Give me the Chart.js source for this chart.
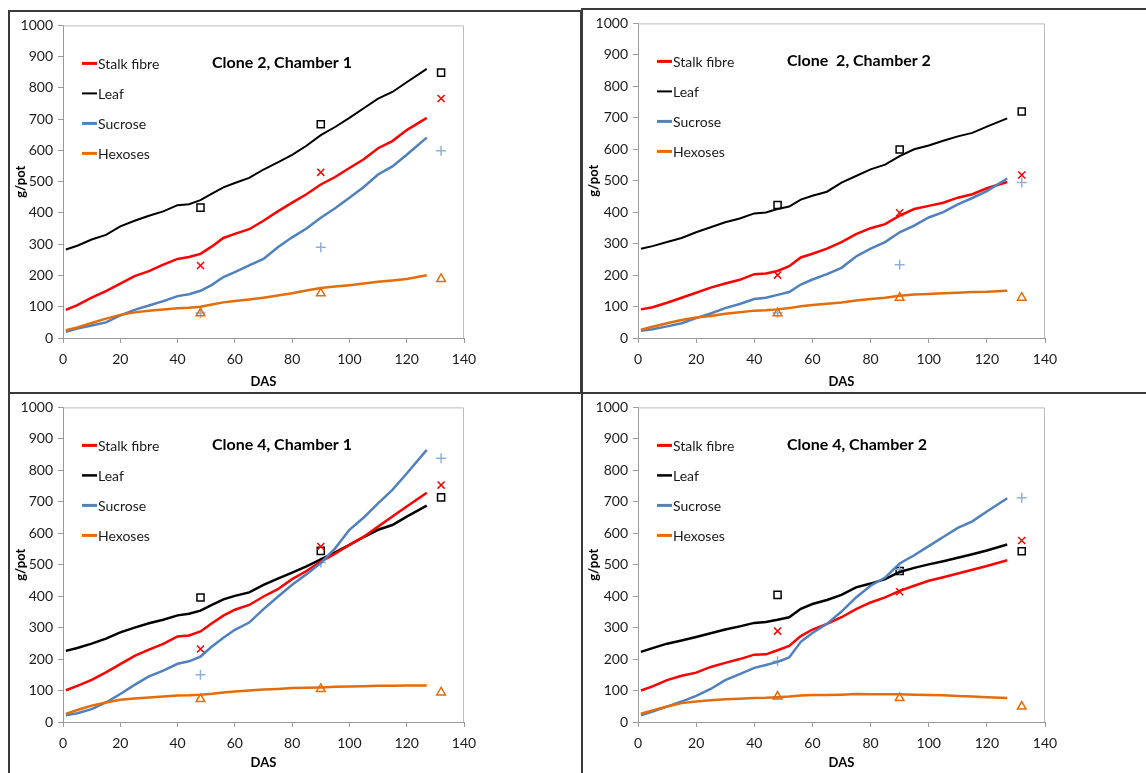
<!DOCTYPE html>
<html>
<head>
<meta charset="utf-8">
<script src="https://cdn.jsdelivr.net/npm/chart.js@4.4.1/dist/chart.umd.min.js"></script>
<style>
  body { margin: 0; background: #fff; width: 1146px; height: 773px; overflow: hidden; position: relative; }
  .panel { position: absolute; box-sizing: border-box; border: 2px solid #3a3a3a; }
  canvas { position: absolute; }
</style>
</head>
<body>
<div class="panel" style="left:8px;top:10px;width:574px;height:384px"></div>
<div class="panel" style="left:581px;top:8px;width:580px;height:386px"></div>
<div class="panel" style="left:8px;top:392px;width:575px;height:400px"></div>
<div class="panel" style="left:581px;top:392px;width:580px;height:400px"></div>
<canvas id="c2ch1" width="570" height="380" style="left:10px;top:12px"></canvas>
<canvas id="c2ch2" width="563" height="382" style="left:583px;top:10px"></canvas>
<canvas id="c4ch1" width="570" height="379" style="left:10px;top:394px"></canvas>
<canvas id="c4ch2" width="563" height="379" style="left:583px;top:394px"></canvas>
<script>
// days after sowing where the simulated curves were read
const das = [1, 5, 10, 15, 20, 25, 30, 35, 40, 44, 48, 52, 56, 60, 65, 70, 75, 80, 85, 90, 95, 100, 105, 110, 115, 120, 127];
// harvest days with measured values
const obsDas = [48, 90, 132];

// Clone 2, Chamber 1
const c2ch1Stalk = [90, 105, 129, 150, 174, 198, 214, 235, 253, 259, 269, 293, 320, 333, 348, 375, 405, 433, 460, 491, 515, 544, 572, 607, 630, 665, 704];
const c2ch1Leaf = [283, 295, 315, 330, 357, 375, 391, 405, 425, 428, 441, 462, 482, 496, 512, 539, 562, 586, 615, 649, 675, 704, 735, 766, 787, 818, 861];
const c2ch1Sucrose = [20, 30, 40, 50, 72, 90, 104, 118, 134, 140, 151, 170, 195, 211, 232, 253, 290, 322, 350, 385, 415, 449, 483, 523, 549, 586, 641];
const c2ch1Hexoses = [25, 34, 48, 62, 74, 82, 87, 91, 95, 97, 100, 107, 114, 118, 123, 129, 136, 143, 152, 160, 165, 169, 174, 180, 184, 189, 201];
const c2ch1StalkObs = [232, 530, 766];
const c2ch1LeafObs = [417, 684, 849];
const c2ch1SucroseObs = [80, 290, 599];
const c2ch1HexosesObs = [79, 143, 189];

// Clone 2, Chamber 2
const c2ch2Stalk = [91, 98, 112, 128, 144, 160, 173, 185, 203, 205, 213, 228, 256, 268, 284, 305, 330, 349, 362, 389, 410, 420, 430, 446, 457, 476, 496];
const c2ch2Leaf = [284, 292, 305, 318, 336, 352, 368, 380, 396, 399, 410, 418, 440, 452, 465, 494, 515, 536, 551, 578, 600, 612, 627, 641, 652, 672, 698];
const c2ch2Sucrose = [23, 28, 37, 47, 63, 78, 95, 108, 124, 128, 137, 146, 170, 186, 203, 223, 259, 284, 305, 336, 357, 383, 400, 425, 445, 467, 507];
const c2ch2Hexoses = [26, 36, 47, 57, 65, 70, 77, 82, 87, 88, 91, 95, 101, 105, 109, 113, 119, 124, 128, 134, 138, 140, 142, 144, 146, 147, 150];
const c2ch2StalkObs = [200, 398, 518];
const c2ch2LeafObs = [423, 599, 720];
const c2ch2SucroseObs = [80, 233, 494];
const c2ch2HexosesObs = [79, 128, 128];

// Clone 4, Chamber 1
const c4ch1Stalk = [101, 115, 134, 158, 184, 210, 230, 248, 272, 275, 288, 314, 338, 357, 372, 399, 422, 454, 480, 510, 535, 563, 589, 621, 653, 685, 729];
const c4ch1Leaf = [226, 235, 249, 265, 285, 300, 314, 325, 339, 344, 354, 372, 390, 401, 412, 436, 456, 475, 495, 517, 539, 563, 588, 611, 626, 653, 688];
const c4ch1Sucrose = [21, 28, 41, 62, 89, 118, 145, 163, 185, 193, 208, 240, 268, 293, 316, 359, 398, 436, 470, 505, 552, 611, 650, 695, 738, 790, 865];
const c4ch1Hexoses = [26, 38, 52, 62, 71, 75, 78, 81, 84, 85, 87, 90, 94, 97, 100, 103, 105, 108, 109, 110, 112, 113, 114, 115, 115, 116, 116];
const c4ch1StalkObs = [232, 558, 753];
const c4ch1LeafObs = [396, 544, 714];
const c4ch1SucroseObs = [150, 507, 838];
const c4ch1HexosesObs = [73, 105, 94];

// Clone 4, Chamber 2
const c4ch2Stalk = [100, 113, 133, 147, 157, 175, 188, 200, 214, 215, 228, 242, 273, 294, 312, 333, 359, 380, 396, 417, 433, 449, 460, 472, 484, 496, 514];
const c4ch2Leaf = [223, 235, 249, 259, 270, 282, 294, 304, 315, 318, 325, 333, 360, 375, 388, 404, 428, 440, 454, 477, 490, 501, 511, 522, 533, 545, 564];
const c4ch2Sucrose = [21, 33, 49, 65, 83, 105, 133, 152, 172, 181, 191, 205, 255, 283, 312, 351, 396, 433, 459, 504, 530, 559, 588, 617, 638, 669, 711];
const c4ch2Hexoses = [26, 37, 49, 60, 65, 69, 72, 74, 76, 77, 79, 81, 84, 86, 86, 87, 89, 88, 88, 88, 87, 86, 85, 83, 81, 79, 76];
const c4ch2StalkObs = [289, 414, 577];
const c4ch2LeafObs = [404, 480, 543];
const c4ch2SucroseObs = [193, 485, 713];
const c4ch2HexosesObs = [81, 76, 49];

const FONT = 'Lato, "Open Sans", sans-serif';
const RED = '#ff0000', BLACK = '#000000', BLUE = '#4f81bd', ORANGE = '#e46c0a', LIGHTBLUE = '#8fb0d9';

function pts(xs, ys) {
  return ys.map((v, i) => ({ x: xs[i], y: v }));
}

// title, legend and the grey frame around the plot area
const panelDeco = {
  id: 'panelDeco',
  beforeDatasetsDraw(chart) {
    const a = chart.chartArea, ctx = chart.ctx;
    ctx.save();
    ctx.strokeStyle = '#bcbcbc';
    ctx.lineWidth = 1;
    ctx.beginPath();
    ctx.moveTo(a.left, a.top + 0.5);
    ctx.lineTo(a.right - 0.5, a.top + 0.5);
    ctx.lineTo(a.right - 0.5, a.bottom);
    ctx.stroke();
    ctx.restore();
  },
  afterDraw(chart, args, opts) {
    const a = chart.chartArea, ctx = chart.ctx;
    ctx.save();
    ctx.fillStyle = '#000';
    ctx.font = 'bold 16px ' + FONT;
    ctx.textAlign = 'left';
    ctx.textBaseline = 'middle';
    ctx.fillText(opts.title, a.left + 149, a.top + 37);
    ctx.font = '14px ' + FONT;
    opts.legend.forEach((item, i) => {
      const y = a.top + 38 + i * 30;
      ctx.strokeStyle = item.color;
      ctx.lineWidth = item.width;
      ctx.beginPath();
      ctx.moveTo(a.left + 19, y);
      ctx.lineTo(a.left + 34, y);
      ctx.stroke();
      ctx.fillStyle = '#1a1a1a';
      ctx.fillText(item.label, a.left + 35, y + 1);
    });
    ctx.restore();
  }
};

function makeChart(id, title, stalk, leaf, sucrose, hexoses, stalkObs, leafObs, sucroseObs, hexosesObs, yAxisW, xAxisH, padTop, padRight, leafW) {
  const line = (label, data, color, w) => ({
    label, data: pts(das, data), showLine: true, borderColor: color, borderWidth: w,
    pointRadius: 0, tension: 0, fill: false
  });
  const marks = (label, data, color, style, r, w) => ({
    label, data: pts(obsDas, data), showLine: false, pointStyle: style, pointRadius: r,
    pointBorderColor: color, pointBackgroundColor: 'rgba(0,0,0,0)', pointBorderWidth: w
  });
  return new Chart(document.getElementById(id), {
    type: 'scatter',
    data: {
      datasets: [
        line('Hexoses', hexoses, ORANGE, 2.5),
        line('Sucrose', sucrose, BLUE, 2.5),
        line('Stalk fibre', stalk, RED, 2.5),
        line('Leaf', leaf, BLACK, leafW),
        marks('Hexoses obs', hexosesObs, ORANGE, 'triangle', 5, 1.5),
        marks('Sucrose obs', sucroseObs, LIGHTBLUE, 'cross', 5, 1.5),
        marks('Stalk fibre obs', stalkObs, RED, 'crossRot', 5, 1.5),
        marks('Leaf obs', leafObs, BLACK, 'rect', 5, 1.5)
      ]
    },
    options: {
      responsive: false,
      animation: false,
      devicePixelRatio: 1,
      layout: { padding: { top: padTop, right: padRight, left: 0, bottom: 0 } },
      plugins: {
        legend: { display: false },
        tooltip: { enabled: false },
        panelDeco: {
          title,
          legend: [
            { label: 'Stalk fibre', color: RED, width: 3 },
            { label: 'Leaf', color: BLACK, width: leafW },
            { label: 'Sucrose', color: BLUE, width: 3 },
            { label: 'Hexoses', color: ORANGE, width: 3 }
          ]
        }
      },
      scales: {
        x: {
          type: 'linear', min: 0, max: 140,
          afterFit: s => { s.height = xAxisH; },
          grid: { drawOnChartArea: false, drawTicks: true, tickLength: 5, color: '#9a9a9a' },
          border: { color: '#9a9a9a' },
          ticks: { stepSize: 20, color: '#1a1a1a', font: { family: FONT, size: 14 }, padding: 8, maxRotation: 0 },
          title: { display: true, text: 'DAS', color: '#000', font: { family: FONT, size: 13, weight: 'bold' }, padding: { top: 0, bottom: 2 } }
        },
        y: {
          type: 'linear', min: 0, max: 1000,
          afterFit: s => { s.width = yAxisW; },
          grid: { drawOnChartArea: false, drawTicks: true, tickLength: 5, color: '#9a9a9a' },
          border: { color: '#9a9a9a' },
          ticks: { stepSize: 100, color: '#1a1a1a', font: { family: FONT, size: 14 }, padding: 5, callback: v => String(v) },
          title: { display: true, text: 'g/pot', color: '#000', font: { family: FONT, size: 13, weight: 'bold' }, padding: { top: 3, bottom: 0 } }
        }
      }
    },
    plugins: [panelDeco]
  });
}

makeChart('c2ch1', 'Clone 2, Chamber 1', c2ch1Stalk, c2ch1Leaf, c2ch1Sucrose, c2ch1Hexoses,
  c2ch1StalkObs, c2ch1LeafObs, c2ch1SucroseObs, c2ch1HexosesObs, 53, 54, 11, 116, 2);
makeChart('c2ch2', 'Clone  2, Chamber 2', c2ch2Stalk, c2ch2Leaf, c2ch2Sucrose, c2ch2Hexoses,
  c2ch2StalkObs, c2ch2LeafObs, c2ch2SucroseObs, c2ch2HexosesObs, 55, 54, 11, 101, 2);
makeChart('c4ch1', 'Clone 4, Chamber 1', c4ch1Stalk, c4ch1Leaf, c4ch1Sucrose, c4ch1Hexoses,
  c4ch1StalkObs, c4ch1LeafObs, c4ch1SucroseObs, c4ch1HexosesObs, 53, 51, 13, 116, 2.5);
makeChart('c4ch2', 'Clone 4, Chamber 2', c4ch2Stalk, c4ch2Leaf, c4ch2Sucrose, c4ch2Hexoses,
  c4ch2StalkObs, c4ch2LeafObs, c4ch2SucroseObs, c4ch2HexosesObs, 55, 51, 11, 101, 2.5);
</script>
</body>
</html>
